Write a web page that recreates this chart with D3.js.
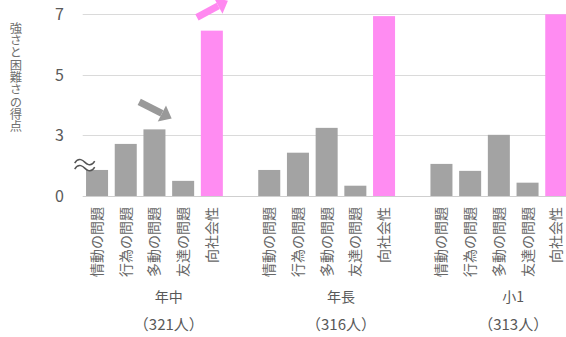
<!DOCTYPE html>
<html>
<head>
<meta charset="utf-8">
<script src="https://cdn.jsdelivr.net/npm/d3@7"></script>
<style>
  body { margin: 0; background: #fff; }
  text { font-family: "Noto Sans CJK JP", "Noto Sans", sans-serif; fill: #595959; }
</style>
</head>
<body>
<svg id="chart" width="566" height="337"></svg>
<script>
// groups (school year) and their sample size
var groups = ["年中", "年長", "小1"];
var groupN = ["（321人）", "（316人）", "（313人）"];
// SDQ subscales
var items = ["情動の問題", "行為の問題", "多動の問題", "友達の問題", "向社会性"];
// scores per group (axis is broken: bottom line stands for 0, scale starts at 1)
var nenchu = [1.86, 2.72, 3.2, 1.5, 6.46];
var nencho = [1.86, 2.43, 3.25, 1.34, 6.94];
var sho1 = [2.06, 1.83, 3.02, 1.44, 7.0];
var yTicks = [1, 3, 5, 7];
var yTickLabels = ["0", "3", "5", "7"];
var yTitle = "強さと困難さの得点";
// annotation arrows, in slot units / score units
var arrowFrom = [[1.97, 4.11], [3.98, 6.9]];
var arrowTo = [[3.1, 3.56], [5.06, 7.45]];
var arrowColor = ["#999999", "#ff88f0"];

var series = [nenchu, nencho, sho1];

var svg = d3.select("#chart");
var mLeft = 82.7, mBottom = 196, mTop = 14.3, step = 28.7;

// one slot per bar, plus an empty slot between groups
var slots = [];
groups.forEach(function(g, gi) {
    items.forEach(function(it, ii) {
        slots.push(g + "|" + it);
    });
    if (gi < groups.length - 1) slots.push("gap" + gi);
});

var x = d3.scaleBand()
    .domain(slots)
    .range([mLeft, mLeft + step * slots.length])
    .paddingInner(0.233)
    .paddingOuter(0.1165);

var y = d3.scaleLinear().domain([1, 7]).range([mBottom, mTop]);
// slot units -> px, for annotations
var xs = d3.scaleLinear().domain([0, slots.length]).range([mLeft, mLeft + step * slots.length]);

// gridlines
svg.append("g").selectAll("line")
    .data(yTicks)
    .enter().append("line")
    .attr("x1", mLeft).attr("x2", 566)
    .attr("y1", function(d) { return Math.round(y(d)) + 0.5; })
    .attr("y2", function(d) { return Math.round(y(d)) + 0.5; })
    .attr("stroke", function(d) { return d === 1 ? "#cfcfcf" : "#dadada"; })
    .attr("stroke-width", 1);

// tick labels
svg.append("g").selectAll("text")
    .data(yTicks)
    .enter().append("text")
    .attr("x", 64)
    .attr("y", function(d) { return y(d); })
    .attr("dy", "0.36em")
    .attr("text-anchor", "end")
    .style("font-size", "16px")
    .style("fill", "#5a5a5a")
    .text(function(d, i) { return yTickLabels[i]; });

// bars
var bars = [];
series.forEach(function(vals, gi) {
    vals.forEach(function(v, ii) {
        bars.push({ key: groups[gi] + "|" + items[ii], value: v, item: ii });
    });
});

svg.append("g").selectAll("rect")
    .data(bars)
    .enter().append("rect")
    .attr("x", function(d) { return x(d.key); })
    .attr("width", x.bandwidth())
    .attr("y", function(d) { return y(d.value); })
    .attr("height", function(d) { return y(1) - y(d.value); })
    .attr("fill", function(d) { return d.item === 4 ? "#ff8cf2" : "#a3a3a3"; });

// category labels, rotated
svg.append("g").selectAll("text")
    .data(bars)
    .enter().append("text")
    .attr("transform", function(d) {
        return "translate(" + (x(d.key) + x.bandwidth() / 2) + "," + 207 + ") rotate(-90)";
    })
    .attr("dy", "0.36em")
    .attr("text-anchor", "end")
    .style("font-size", "14px")
    .style("fill", "#666")
    .text(function(d) { return items[d.item]; });

// group labels, centred over the 6 slots of each group
var gl = svg.append("g").selectAll("g")
    .data(groups)
    .enter().append("g")
    .attr("transform", function(d, i) {
        var x0 = x(d + "|" + items[0]) - (step - x.bandwidth()) / 2;
        return "translate(" + (x0 + step * 3) + ",0)";
    });
gl.append("text")
    .attr("y", 302)
    .attr("text-anchor", "middle")
    .style("font-size", "14px")
    .text(function(d) { return d; });
gl.append("text")
    .attr("y", 330)
    .attr("text-anchor", "middle")
    .style("font-size", "15px")
    .text(function(d, i) { return groupN[i]; });

// y title, vertical with upright characters
svg.append("text")
    .attr("x", 16)
    .attr("y", 22)
    .style("writing-mode", "vertical-rl")
    .style("text-orientation", "upright")
    .style("font-size", "12.3px")
    .style("fill", "#707070")
    .text(yTitle);

// axis break mark
var bk = svg.append("g").attr("transform", "translate(" + (mLeft + 2) + "," + y(2.02) + ")");
[-3, 3].forEach(function(off) {
    var p = d3.path();
    p.moveTo(-10, off + 1);
    p.bezierCurveTo(-6, off - 6, -1, off - 1, 0, off);
    p.bezierCurveTo(1, off + 1, 6, off + 6, 10, off - 1);
    bk.append("path")
        .attr("d", p.toString())
        .attr("fill", "none")
        .attr("stroke", "#555")
        .attr("stroke-width", 1.5);
});

// arrows
arrowFrom.forEach(function(a, i) {
    var x1 = xs(a[0]), y1 = y(a[1]);
    var x2 = xs(arrowTo[i][0]), y2 = y(arrowTo[i][1]);
    var ang = Math.atan2(y2 - y1, x2 - x1);
    var hl = 11, hw = 9;
    var bx = x2 - hl * Math.cos(ang), by = y2 - hl * Math.sin(ang);
    var g = svg.append("g");
    g.append("line")
        .attr("x1", x1).attr("y1", y1)
        .attr("x2", bx).attr("y2", by)
        .attr("stroke", arrowColor[i])
        .attr("stroke-width", 7);
    var px = -Math.sin(ang), py = Math.cos(ang);
    g.append("polygon")
        .attr("points", [
            [x2, y2],
            [bx + px * hw, by + py * hw],
            [bx - px * hw, by - py * hw]
        ].map(function(p) { return p.join(","); }).join(" "))
        .attr("fill", arrowColor[i]);
});
</script>
</body>
</html>
